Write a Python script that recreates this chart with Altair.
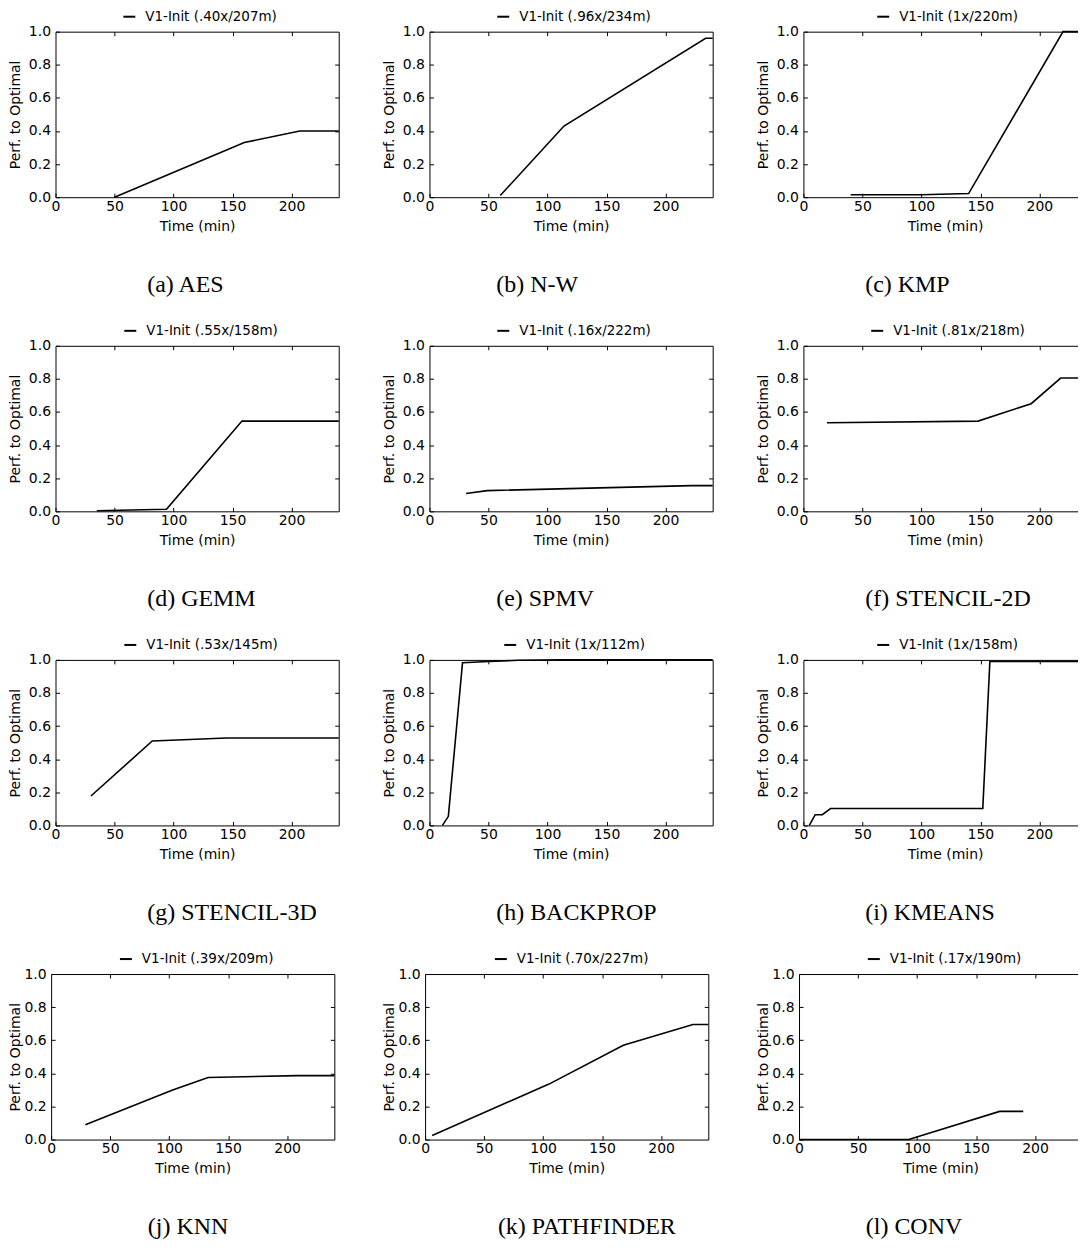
import altair as alt
import pandas as pd

NAMES = ["AES", "N-W", "KMP", "GEMM", "SPMV", "STENCIL-2D",
         "STENCIL-3D", "BACKPROP", "KMEANS", "KNN", "PATHFINDER", "CONV"]
LETTERS = ["a", "b", "c", "d", "e", "f", "g", "h", "i", "j", "k", "l"]
SERIES = ["V1-Init (.40x/207m)", "V1-Init (.96x/234m)", "V1-Init (1x/220m)",
          "V1-Init (.55x/158m)", "V1-Init (.16x/222m)", "V1-Init (.81x/218m)",
          "V1-Init (.53x/145m)", "V1-Init (1x/112m)", "V1-Init (1x/158m)",
          "V1-Init (.39x/209m)", "V1-Init (.70x/227m)", "V1-Init (.17x/190m)"]

AES_T = [50, 160, 207, 240]
AES_P = [0.0, 0.33, 0.40, 0.40]
NW_T = [60, 114, 234, 240]
NW_P = [0.01, 0.43, 0.96, 0.96]
KMP_T = [40, 100, 140, 220, 240]
KMP_P = [0.015, 0.015, 0.022, 1.0, 1.0]
GEMM_T = [35, 94, 158, 240]
GEMM_P = [0.003, 0.012, 0.545, 0.545]
SPMV_T = [31, 49, 222, 240]
SPMV_P = [0.108, 0.125, 0.155, 0.155]
ST2D_T = [20, 148, 193, 218, 240]
ST2D_P = [0.535, 0.545, 0.65, 0.805, 0.805]
ST3D_T = [30, 82, 145, 240]
ST3D_P = [0.178, 0.51, 0.528, 0.528]
BP_T = [11, 16, 28, 50, 75, 112, 240]
BP_P = [0.0, 0.055, 0.983, 0.99, 0.998, 1.0, 1.0]
KM_T = [5, 10, 16, 23, 152, 158, 240]
KM_P = [0.0, 0.065, 0.065, 0.102, 0.102, 0.99, 0.99]
KNN_T = [29, 103, 133, 209, 240]
KNN_P = [0.09, 0.30, 0.375, 0.386, 0.386]
PF_T = [6, 105, 168, 227, 240]
PF_P = [0.025, 0.335, 0.57, 0.695, 0.695]
CONV_T = [0, 93, 170, 190]
CONV_P = [0.0, 0.0, 0.17, 0.17]

TIMES = [AES_T, NW_T, KMP_T, GEMM_T, SPMV_T, ST2D_T, ST3D_T, BP_T, KM_T, KNN_T, PF_T, CONV_T]
PERFS = [AES_P, NW_P, KMP_P, GEMM_P, SPMV_P, ST2D_P, ST3D_P, BP_P, KM_P, KNN_P, PF_P, CONV_P]

X_TICKS = [0, 50, 100, 150, 200]
Y_TICKS = [0.0, 0.2, 0.4, 0.6, 0.8, 1.0]

# layout / style (not data)
PW, PH = 284, 166
LEGEND_X = [67, 67, 73, 68, 67, 67, 68, 74, 73, 68, 69, 68]
CAPTION_DX = [92, 67, 62, 92, 67, 62, 92, 67, 62, 97, 73, 67]
FONT = "DejaVu Sans"


def panel(i, title_pad, right_ext):
    df = pd.DataFrame({"t": TIMES[i], "p": PERFS[i], "s": [SERIES[i]] * len(TIMES[i])})
    xs = alt.Scale(domain=[0, 240], nice=False, zero=False)
    ys = alt.Scale(domain=[0, 1], nice=False, zero=False)
    line = alt.Chart(df).mark_line(strokeWidth=1.6).encode(
        x=alt.X("t:Q", scale=xs, axis=alt.Axis(
            values=X_TICKS, title="Time (min)", offset=-4, tickSize=4,
            labelFlush=False, labelOverlap=False, domain=False, grid=False,
            labelPadding=2, titlePadding=6, format="d")),
        y=alt.Y("p:Q", scale=ys, axis=alt.Axis(
            values=Y_TICKS, title="Perf. to Optimal", offset=-4, tickSize=4,
            labelFlush=False, labelOverlap=False, domain=False, grid=False,
            minExtent=27, maxExtent=27,
            labelPadding=5, titlePadding=title_pad, format=".1f")),
        color=alt.Color("s:N", scale=alt.Scale(range=["black"]), legend=alt.Legend(
            title=None, orient="none", legendX=LEGEND_X[i], legendY=-22,
            symbolType="stroke", symbolStrokeWidth=2, symbolSize=144,
            labelFont=FONT, labelFontSize=13.5, labelColor="black",
            labelOffset=9, padding=0)),
    )
    ghost = alt.Chart(df).mark_line(opacity=0).encode(
        x=alt.X("t:Q", scale=xs, axis=alt.Axis(
            orient="top", values=[50, 100, 150, 200], labels=False, domain=False,
            grid=False, title=None, offset=-4, tickSize=4, minExtent=4, maxExtent=4)),
        y=alt.Y("p:Q", scale=ys, axis=alt.Axis(
            orient="right", values=[0.2, 0.4, 0.6, 0.8], labels=False,
            domain=False, grid=False, title=None, offset=-4, tickSize=4,
            minExtent=right_ext, maxExtent=right_ext)),
    )
    return alt.layer(line, ghost).resolve_axis(x="independent", y="independent").properties(
        width=PW, height=PH,
        title=alt.TitleParams(
            text=f"({LETTERS[i]}) {NAMES[i]}", orient="bottom", anchor="start",
            frame="group", dx=CAPTION_DX[i], offset=40, font="Liberation Serif",
            fontSize=24, fontWeight="normal", color="black"),
    )


rows = []
for r in range(4):
    last = r == 3
    panels = [panel(3 * r + c, title_pad=6 if last else 10,
                    right_ext=16 if (last and c == 2) else 4) for c in range(3)]
    row = alt.hconcat(*panels, spacing=43 if last else 39).resolve_scale(color="independent")
    rows.append(row)

chart = alt.vconcat(*rows, spacing=25, center=True).resolve_scale(color="independent").properties(
    padding={"left": -1, "top": -1, "right": -17, "bottom": 0}
).configure(background="white").configure_view(
    stroke="black", strokeWidth=1
).configure_axis(
    labelFont=FONT, labelFontSize=14, labelColor="black",
    titleFont=FONT, titleFontSize=14, titleFontWeight="normal", titleColor="black",
    tickColor="black", tickWidth=1
)

chart.save("out.html", embed_options={"renderer": "svg", "actions": False})
